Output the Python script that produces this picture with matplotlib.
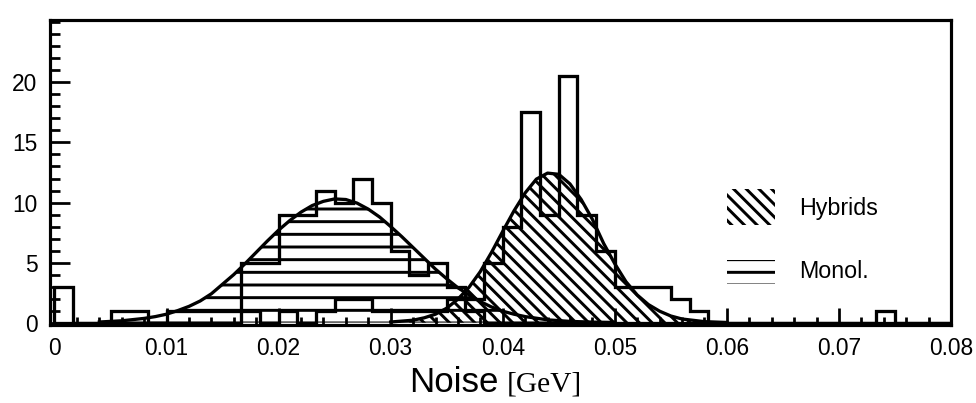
import numpy as np
import matplotlib
matplotlib.use("Agg")
import matplotlib.pyplot as plt
from matplotlib.patches import Patch, Rectangle
from matplotlib.legend_handler import HandlerPatch
from matplotlib.ticker import MultipleLocator

# histogram bins: 48 bins of 1/600 GeV starting at 0
bin_width = 1.0 / 600
mono_counts = [3, 0, 0, 1, 1, 0, 1, 1, 1, 1, 5, 5, 9, 9, 11, 10, 12, 10, 6, 4,
               5, 3, 1, 0, 0, 0, 0, 0, 0, 0, 0, 0, 0, 0, 0, 0, 0, 0, 0, 0,
               0, 0, 0, 0, 0, 0, 0, 0]
hyb_counts = [0, 0, 0, 0, 0, 0, 0, 0, 0, 0, 1, 0, 1, 0, 1, 2, 2, 1, 1, 1,
              1, 2, 2, 5, 8, 17.5, 9, 20.5, 9, 6, 3, 3, 3, 2, 1, 0, 0, 0, 0, 0,
              0, 0, 0, 0, 1, 0, 0, 0]

# fitted curves
mono_fit_x = [0.004, 0.006, 0.008, 0.009, 0.010, 0.011, 0.012, 0.013, 0.014, 0.015,
              0.016, 0.017, 0.018, 0.019, 0.020, 0.021, 0.022, 0.023, 0.024, 0.025,
              0.026, 0.027, 0.028, 0.029, 0.030, 0.031, 0.032, 0.033, 0.034, 0.035,
              0.036, 0.037, 0.038, 0.039, 0.040, 0.041, 0.042, 0.044, 0.046, 0.048,
              0.050]
mono_fit_y = [0.05, 0.15, 0.35, 0.5, 0.7, 1.0, 1.35, 1.8, 2.4, 3.2,
              4.0, 4.9, 5.85, 6.8, 7.7, 8.5, 9.2, 9.75, 10.1, 10.3,
              10.25, 9.95, 9.45, 8.8, 8.0, 7.15, 6.25, 5.35, 4.45, 3.65,
              2.9, 2.3, 1.75, 1.3, 0.95, 0.7, 0.5, 0.23, 0.1, 0.04,
              0.01]
hyb_fit_x = [0.030, 0.032, 0.033, 0.034, 0.035, 0.036, 0.037, 0.038, 0.039, 0.040,
             0.041, 0.042, 0.043, 0.044, 0.045, 0.046, 0.047, 0.048, 0.049, 0.050,
             0.051, 0.052, 0.053, 0.054, 0.055, 0.056, 0.058, 0.060]
hyb_fit_y = [0.05, 0.2, 0.4, 0.7, 1.2, 1.95, 2.95, 4.25, 5.85, 7.6,
             9.3, 10.8, 11.95, 12.45, 12.35, 11.55, 10.25, 8.6, 6.6, 4.9,
             3.4, 2.3, 1.5, 0.95, 0.55, 0.3, 0.08, 0.01]

xticks = [0, 0.01, 0.02, 0.03, 0.04, 0.05, 0.06, 0.07, 0.08]
xtick_labels = ["0", "0.01", "0.02", "0.03", "0.04", "0.05", "0.06", "0.07", "0.08"]
yticks = [0, 5, 10, 15, 20]

DPI = 76
LW = 3.1
plt.rcParams['font.family'] = ['Liberation Sans', 'DejaVu Sans']
plt.rcParams['hatch.linewidth'] = 2.8
plt.rcParams['hatch.color'] = 'black'

fig = plt.figure(figsize=(976 / DPI, 403 / DPI), dpi=DPI)
ax = fig.add_axes([50 / 976, 1 - 325 / 403, 901 / 976, 305 / 403])

edges = np.arange(len(mono_counts) + 1) * bin_width

# hatched fits
ax.fill_between(mono_fit_x, 0, mono_fit_y, facecolor='none', edgecolor='black',
                hatch='-', linewidth=0)
ax.fill_between(hyb_fit_x, 0, hyb_fit_y, facecolor='none', edgecolor='black',
                hatch='\\\\', linewidth=0)
ax.plot(mono_fit_x, mono_fit_y, color='black', lw=LW)
ax.plot(hyb_fit_x, hyb_fit_y, color='black', lw=LW)

# histograms
ax.stairs(mono_counts, edges, color='black', lw=LW)
ax.stairs(hyb_counts, edges, color='black', lw=LW)

ax.set_xlim(-0.0004, 0.08)
ax.set_ylim(-0.2, 25.2)
ax.set_xticks(xticks, xtick_labels)
ax.set_yticks(yticks)
ax.xaxis.set_minor_locator(MultipleLocator(0.002))
ax.yaxis.set_minor_locator(MultipleLocator(1))
ax.tick_params(which='both', direction='in', top=False, right=False, width=2.6,
               labelsize=21.5, color='black')
ax.tick_params(axis='y', which='major', length=19, pad=12)
ax.tick_params(axis='y', which='minor', length=9.5)
ax.tick_params(axis='x', which='major', length=16, pad=11)
ax.tick_params(axis='x', which='minor', length=7.5)
for s in ax.spines.values():
    s.set_linewidth(3.0)


class FlatHatchHandler(HandlerPatch):
    # the "Monol." key is a flatter box than the "Hybrids" one
    def create_artists(self, legend, orig_handle, xdescent, ydescent,
                       width, height, fontsize, trans):
        p = Rectangle((-xdescent, -ydescent + height * 0.15), width, height * 0.65,
                      facecolor='none', edgecolor='black', hatch='-', linewidth=0)
        p.set_transform(trans)
        return [p]


handles = [Patch(facecolor='none', edgecolor='black', hatch='\\\\', linewidth=0, label='Hybrids'),
           Patch(facecolor='none', edgecolor='black', hatch='-', linewidth=0, label='Monol.')]
ax.legend(handles=handles, loc='upper left', bbox_to_anchor=(0.751, 0.445),
          frameon=False, fontsize=22, handlelength=2.1, handleheight=2.0,
          handletextpad=1.0, labelspacing=1.2, borderpad=0, borderaxespad=0,
          handler_map={handles[1]: FlatHatchHandler()})

# x label: sans "Noise" followed by serif "[GeV]"
fig.text(498 / 976, 1 - 392 / 403, "Noise", ha='right', va='baseline', fontsize=33)
fig.text(507 / 976, 1 - 392 / 403, "[GeV]", ha='left', va='baseline', fontsize=28,
         family=['Liberation Serif', 'DejaVu Serif'])

fig.savefig("out.png", dpi=DPI)
